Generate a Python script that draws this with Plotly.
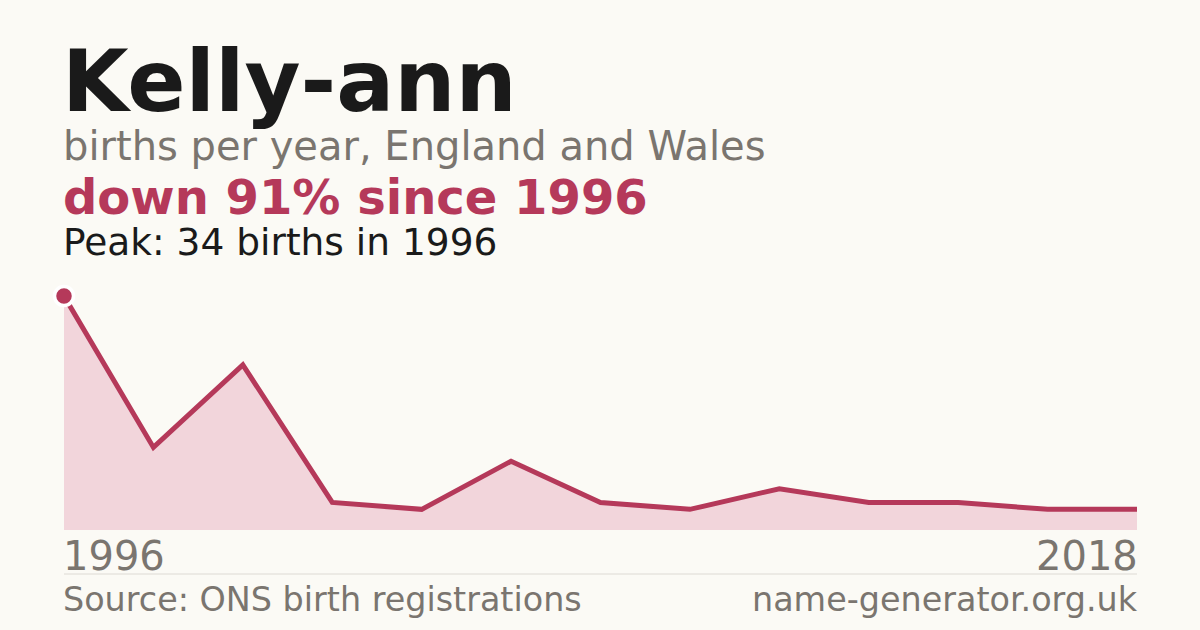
import plotly.graph_objects as go

years = ["1996", "1997", "1998", "1999", "2000", "2002", "2004", "2006", "2008", "2010", "2012", "2015", "2018"]
births = [34, 12, 24, 4, 3, 10, 4, 3, 6, 4, 4, 3, 3]

title = "Kelly-ann"
subtitle = "births per year, England and Wales"
change_text = "down 91% since 1996"
peak_text = "Peak: 34 births in 1996"
source_text = "Source: ONS birth registrations"
site_text = "name-generator.org.uk"

RED = "#b5395a"
FILL = "#f2d5db"
GRAY = "#7a756f"
BG = "#fbfaf5"
FONT = "DejaVu Sans"

W, H = 1200, 630
L, R, T, B = 64, 63, 296, 100
ph = H - T - B

def py(p):
    return (H - B - p) / ph

fig = go.Figure()
fig.add_trace(go.Scatter(
    x=years, y=births, mode="lines",
    line=dict(color=RED, width=5),
    fill="tozeroy", fillcolor=FILL,
    hoverinfo="skip", cliponaxis=False,
))
fig.add_trace(go.Scatter(
    x=[years[0]], y=[births[0]], mode="markers",
    marker=dict(color=RED, size=19, line=dict(color="white", width=3.5)),
    hoverinfo="skip", cliponaxis=False,
))

ann = []
def add(text, x, y, size, color, bold=False, xanchor="left"):
    ann.append(dict(
        text=f"<b>{text}</b>" if bold else text,
        x=x, y=py(y), xref="paper", yref="paper",
        xanchor=xanchor, yanchor="middle", showarrow=False,
        font=dict(family=FONT, size=size, color=color),
    ))

add(title, -0.004, 81, 86, "#1a1a1a", bold=True)
add(subtitle, -0.003, 146, 40, GRAY)
add(change_text, -0.003, 197, 48, RED, bold=True)
add(peak_text, -0.003, 242, 37.5, "#1a1a1a")
add(years[0], -0.003, 556, 40, GRAY)
add(years[-1], 1.003, 556, 40, GRAY, xanchor="right")
add(source_text, -0.003, 599, 33.4, GRAY)
add(site_text, 1.003, 599, 33.4, GRAY, xanchor="right")

fig.update_layout(
    width=W, height=H,
    margin=dict(l=L, r=R, t=T, b=B),
    paper_bgcolor=BG, plot_bgcolor=BG,
    showlegend=False,
    annotations=ann,
    shapes=[dict(type="line", xref="paper", yref="paper",
                 x0=0, x1=1, y0=py(574), y1=py(574),
                 line=dict(color="#dddad4", width=1))],
    xaxis=dict(type="category", range=[0, len(years) - 1], showgrid=False,
               zeroline=False, showticklabels=False, ticks="", showline=False,
               fixedrange=True),
    yaxis=dict(range=[0, 34], showgrid=False, zeroline=False,
               showticklabels=False, ticks="", showline=False, fixedrange=True),
)

fig.write_html("out.html", config={"displayModeBar": False},
               post_script="document.body.style.margin='0';document.body.style.background='%s';" % BG)
